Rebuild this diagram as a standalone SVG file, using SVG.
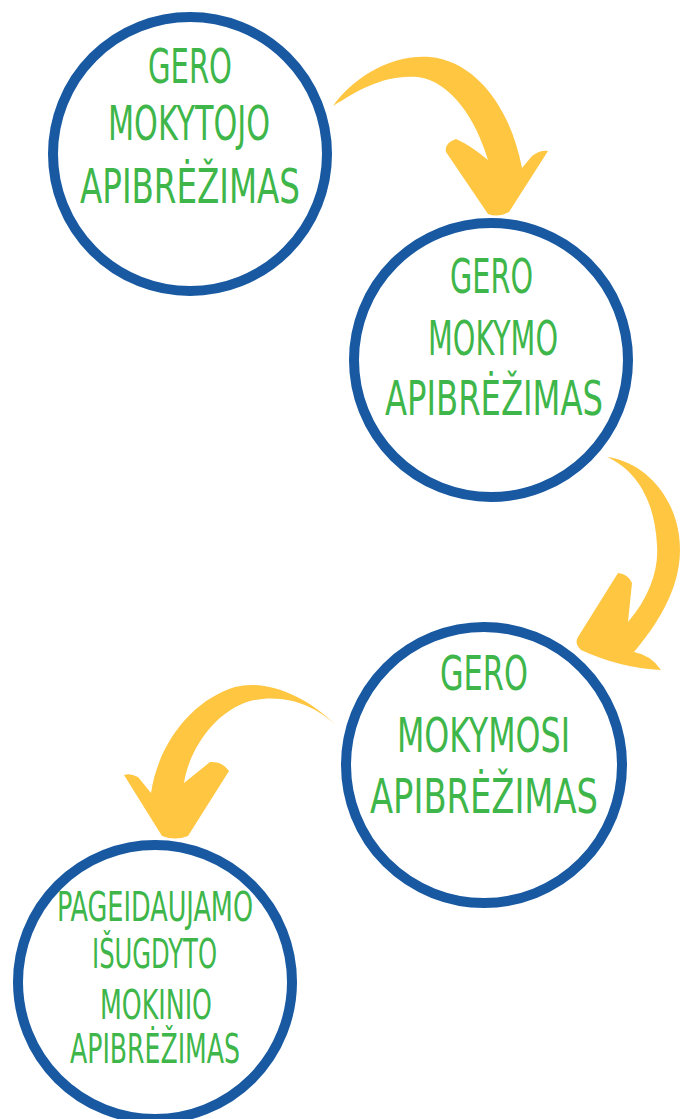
<svg xmlns="http://www.w3.org/2000/svg" width="685" height="1119" viewBox="0 0 685 1119">
<style>
.ring{fill:#ffffff;stroke:#1859a2;stroke-width:10}
.arrow{fill:#fec641;stroke:none}
.lbl{fill:#3eb64a;font-family:"Liberation Sans Narrow","DejaVu Sans Condensed","Liberation Sans",sans-serif;font-size:48px}
.small{font-size:40px}
</style>
<rect width="685" height="1119" fill="#ffffff"/>
<g id="connectors">
<path class="arrow" d="M333,106 C352,79 390,54 430,57 C474,61 510,105 522,168 L532,156 Q540,150 548,151 L509,212 Q498,218 488,214 L446,152 Q444,143 456,139 Q470,145 488,160 C476,120 452,82 418,77 C385,74 358,90 333,106 Z"/>
<path class="arrow" d="M607,457 C646,462 680,500 680,550 C680,590 656,626 634,652 Q651,655 661,670 Q620,668 581,650 Q574,643 578,637 L618,573 Q628,574 632,583 L628,622 C649,598 659,570 657,545 C655,505 640,472 607,457 Z"/>
<path class="arrow" d="M338,727 C305,694 265,679 235,687 C195,699 159,740 151,793 L138,777 Q130,773 124,775 L162,836 Q175,841 188,836 L229,771 Q222,761 210,762 L184,783 C189,750 215,711 250,701 C285,693 315,705 338,727 Z"/>
</g>
<g id="node1">
<circle class="ring" cx="190" cy="154" r="137"/>
<text class="lbl" x="148" y="83" textLength="84" lengthAdjust="spacingAndGlyphs">GERO</text>
<text class="lbl" x="108" y="140" textLength="162" lengthAdjust="spacingAndGlyphs">MOKYTOJO</text>
<text class="lbl" x="80" y="203" textLength="220" lengthAdjust="spacingAndGlyphs">APIBRĖŽIMAS</text>
</g>
<g id="node2">
<circle class="ring" cx="491" cy="360" r="137"/>
<text class="lbl" x="450" y="293" textLength="83" lengthAdjust="spacingAndGlyphs">GERO</text>
<text class="lbl" x="428" y="355" textLength="130" lengthAdjust="spacingAndGlyphs">MOKYMO</text>
<text class="lbl" x="385" y="415" textLength="218" lengthAdjust="spacingAndGlyphs">APIBRĖŽIMAS</text>
</g>
<g id="node3">
<circle class="ring" cx="484" cy="765" r="138"/>
<text class="lbl" x="440" y="690" textLength="88" lengthAdjust="spacingAndGlyphs">GERO</text>
<text class="lbl" x="397" y="752" textLength="173" lengthAdjust="spacingAndGlyphs">MOKYMOSI</text>
<text class="lbl" x="370" y="813" textLength="228" lengthAdjust="spacingAndGlyphs">APIBRĖŽIMAS</text>
</g>
<g id="node4">
<circle class="ring" cx="155" cy="982" r="137"/>
<text class="lbl small" x="57" y="921" textLength="196" lengthAdjust="spacingAndGlyphs">PAGEIDAUJAMO</text>
<text class="lbl small" x="92" y="968" textLength="125" lengthAdjust="spacingAndGlyphs">IŠUGDYTO</text>
<text class="lbl small" x="100" y="1019" textLength="112" lengthAdjust="spacingAndGlyphs">MOKINIO</text>
<text class="lbl small" x="70" y="1063" textLength="170" lengthAdjust="spacingAndGlyphs">APIBRĖŽIMAS</text>
</g>
</svg>
